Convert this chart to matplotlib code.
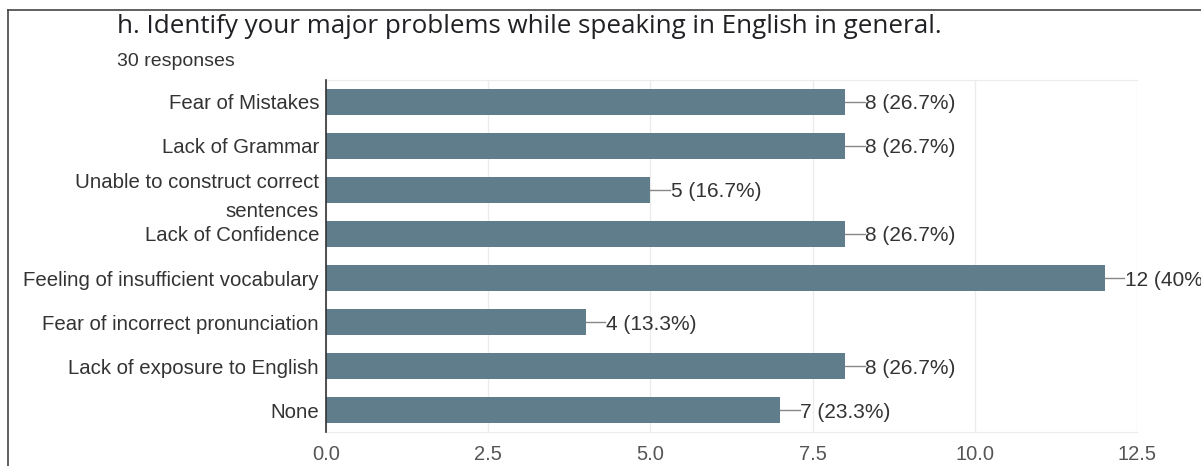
import matplotlib.pyplot as plt
from matplotlib.lines import Line2D

categories = ['Fear of Mistakes', 'Lack of Grammar',
              'Unable to construct correct\nsentences', 'Lack of Confidence',
              'Feeling of insufficient vocabulary', 'Fear of incorrect pronunciation',
              'Lack of exposure to English', 'None']
counts = [8, 8, 5, 8, 12, 4, 8, 7]
percents = ['26.7%', '26.7%', '16.7%', '26.7%', '40%', '13.3%', '26.7%', '23.3%']
xticks = [0.0, 2.5, 5.0, 7.5, 10.0, 12.5]

plt.rcParams['font.family'] = ['Liberation Sans', 'DejaVu Sans']

W, H = 1201, 466
fig = plt.figure(figsize=(W / 100, H / 100), dpi=100)
ax = fig.add_axes([326 / W, 34 / H, 811 / W, 352 / H])

bar_color = '#607d8b'
text_color = '#333333'
y = list(range(len(categories)))
ax.barh(y, counts, height=0.6, color=bar_color, zorder=3)
ax.set_ylim(len(categories) - 0.5, -0.5)
ax.set_xlim(0, 12.5)

ax.set_yticks(y)
ax.set_yticklabels(categories, fontsize=14.7, color=text_color, linespacing=1.65)
ax.set_xticks(xticks)
ax.set_xticklabels(['%.1f' % t for t in xticks], fontsize=14.5, color='#555555')
ax.tick_params(axis='y', length=0, pad=5)
ax.tick_params(axis='x', length=0, pad=9)
ax.grid(axis='x', color='#ececec', linewidth=1, zorder=0)

for side in ['top', 'right', 'bottom']:
    ax.spines[side].set_color('#ececec')
ax.spines['right'].set_visible(False)
ax.spines['left'].set_color('#333333')
ax.spines['left'].set_linewidth(1.2)
ax.spines['left'].set_zorder(4)

# value labels with a short leader line; the last one runs off the edge as in the source
for yi, c, p in zip(y, counts, percents):
    ax.plot([c, c + 0.3], [yi, yi], color='#888888', linewidth=1.0,
            zorder=4, clip_on=False)
    ax.annotate('%d (%s)' % (c, p), xy=(c + 0.31, yi), va='center_baseline', ha='left',
                fontsize=15, color=text_color, annotation_clip=False)

fig.text(117 / W, 1 - 33 / H, 'h. Identify your major problems while speaking in English in general.',
         fontsize=18.7, color='#202124', family=['Open Sans', 'DejaVu Sans'], va='baseline')
fig.text(117 / W, 1 - 66 / H, '30 responses', fontsize=14, color='#333333', va='baseline')

# frame of the screenshot
fig.add_artist(Line2D([8 / W, 8 / W], [0, 1 - 10 / H], color='#444444', linewidth=1.2))
fig.add_artist(Line2D([8 / W, 1], [1 - 10 / H, 1 - 10 / H], color='#444444', linewidth=1.2))

fig.savefig('out.png', dpi=100)
